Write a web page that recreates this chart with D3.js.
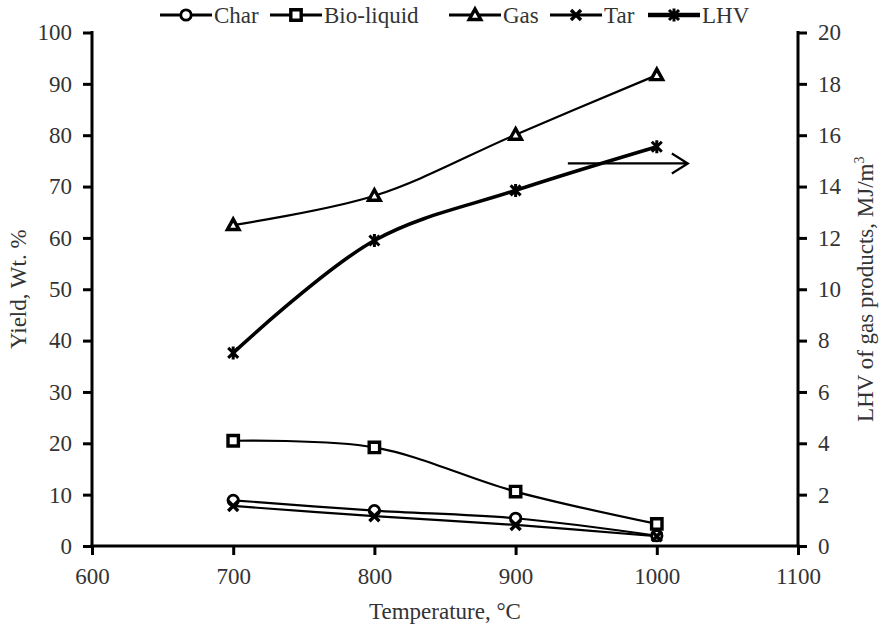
<!DOCTYPE html>
<html>
<head>
<meta charset="utf-8">
<script src="https://cdn.jsdelivr.net/npm/d3@7"></script>
<style>
  html, body { margin: 0; padding: 0; background: #fff; }
  svg text { font-family: "Liberation Serif", "Times New Roman", serif; fill: #333; }
</style>
</head>
<body>
<svg id="chart" width="883" height="630"></svg>
<script>
// Temperatures (°C) on the x axis
const temperatures = [700, 800, 900, 1000];

// Product yields, wt. % (left axis)
const charYield = [8.9, 6.9, 5.4, 2.0];
const bioLiquidYield = [20.5, 19.2, 10.6, 4.3];
const gasYield = [62.5, 68.2, 80.1, 91.7];
const tarYield = [7.8, 5.8, 4.1, 1.9];

// Lower heating value of gas products, MJ/m3 (right axis)
const lhvValues = [7.52, 11.9, 13.85, 15.55];

// Axis ticks
const xTicks = [600, 700, 800, 900, 1000, 1100];
const yLeftTicks = [0, 10, 20, 30, 40, 50, 60, 70, 80, 90, 100];
const yRightTicks = [0, 2, 4, 6, 8, 10, 12, 14, 16, 18, 20];

// Series names in legend order
const seriesNames = ["Char", "Bio-liquid", "Gas", "Tar", "LHV"];

// Arrow pointing at the right-hand axis (temperature span, LHV level)
const arrowFrom = [937, 14.9];
const arrowTo = [1022, 14.9];

const svg = d3.select("#chart");
const plot = { left: 92, right: 798, top: 32.5, bottom: 546 };
const FONT = 23;
const SERIF = '"Liberation Serif", "Times New Roman", serif';

const x = d3.scaleLinear().domain([600, 1100]).range([plot.left, plot.right]);
const yL = d3.scaleLinear().domain([0, 100]).range([plot.bottom, plot.top]);
const yR = d3.scaleLinear().domain([0, 20]).range([plot.bottom, plot.top]);

// ---- marker shapes ----
function markerPath(kind) {
  switch (kind) {
    case "circle": return d3.symbol(d3.symbolCircle, 85)();
    case "square": return "M-5.2,-5.2H5.2V5.2H-5.2Z";
    case "triangle": return "M0,-6L5.8,4.5H-5.8Z";
    case "x": return "M-5,-5L5,5M-5,5L5,-5";
    case "star": return "M-5,-5L5,5M-5,5L5,-5M0,-6.5V6.5";
  }
}

const series = [
  { name: seriesNames[0], values: charYield, y: yL, marker: "circle", width: 2.2, mstroke: 2.8 },
  { name: seriesNames[1], values: bioLiquidYield, y: yL, marker: "square", width: 2.2, mstroke: 3.4 },
  { name: seriesNames[2], values: gasYield, y: yL, marker: "triangle", width: 2.2, mstroke: 3.4 },
  { name: seriesNames[3], values: tarYield, y: yL, marker: "x", width: 2.2, mstroke: 3.4 },
  { name: seriesNames[4], values: lhvValues, y: yR, marker: "star", width: 3.6, mstroke: 3 }
];

// ---- axes ----
const axisG = svg.append("g");

const gx = axisG.append("g").attr("transform", `translate(0,${plot.bottom})`)
  .call(d3.axisBottom(x).tickValues(xTicks).tickSize(9).tickPadding(13).tickFormat(d3.format("d")));
const gl = axisG.append("g").attr("transform", `translate(${plot.left},0)`)
  .call(d3.axisLeft(yL).tickValues(yLeftTicks).tickSize(9).tickPadding(11).tickFormat(d3.format("d")));
const gr = axisG.append("g").attr("transform", `translate(${plot.right},0)`)
  .call(d3.axisRight(yR).tickValues(yRightTicks).tickSize(9).tickPadding(11).tickFormat(d3.format("d")));

[gx, gl, gr].forEach(g => {
  g.attr("font-family", SERIF).attr("font-size", FONT);
  g.select(".domain").attr("stroke", "#000").attr("stroke-width", 3);
  g.selectAll(".tick line").attr("stroke", "#000").attr("stroke-width", 3);
  g.selectAll(".tick text").style("font-size", FONT + "px").style("font-family", SERIF).attr("fill", "#333");
});
// plain axis lines without the end caps d3 draws
gx.select(".domain").attr("d", `M${plot.left - 1.5},0H${plot.right + 1.5}`);
gl.select(".domain").attr("d", `M0,${plot.top - 1.5}V${plot.bottom}`);
gr.select(".domain").attr("d", `M0,${plot.top - 1.5}V${plot.bottom}`);

// axis titles
svg.append("text").attr("x", (plot.left + plot.right) / 2).attr("y", 619)
  .attr("text-anchor", "middle").attr("font-size", FONT).text("Temperature, °C");
svg.append("text").attr("transform", `translate(26,${(plot.top + plot.bottom) / 2}) rotate(-90)`)
  .attr("text-anchor", "middle").attr("font-size", FONT).text("Yield, Wt. %");
const rt = svg.append("text").attr("transform", `translate(873,${(plot.top + plot.bottom) / 2}) rotate(-90)`)
  .attr("text-anchor", "middle").attr("font-size", FONT);
rt.append("tspan").text("LHV of gas products, MJ/m");
rt.append("tspan").attr("font-size", 14).attr("dy", -9).text("3");

// ---- series lines and markers ----
const dataG = svg.append("g");
series.forEach(s => {
  const pts = temperatures.map((t, i) => [x(t), s.y(s.values[i])]);
  dataG.append("path")
    .attr("d", d3.line().curve(d3.curveCatmullRom.alpha(0.5))(pts))
    .attr("fill", "none").attr("stroke", "#000").attr("stroke-width", s.width);
  s.pts = pts;
});
series.forEach(s => {
  dataG.selectAll(null).data(s.pts).join("path")
    .attr("transform", d => `translate(${d[0]},${d[1]})`)
    .attr("d", markerPath(s.marker))
    .attr("fill", (s.marker === "x" || s.marker === "star") ? "none" : "#fff")
    .attr("stroke", "#000").attr("stroke-width", s.mstroke);
});

// ---- arrow toward the right axis ----
const ax0 = x(arrowFrom[0]), ay = yR(arrowFrom[1]), ax1 = x(arrowTo[0]);
svg.append("path")
  .attr("d", `M${ax0},${ay}H${ax1}M${ax1 - 16},${ay - 10}L${ax1},${ay}L${ax1 - 16},${ay + 10}`)
  .attr("fill", "none").attr("stroke", "#000").attr("stroke-width", 2.2);

// ---- legend ----
const legendX = [160, 270, 449, 550, 648];
const legendY = 15;
const leg = svg.append("g");
series.forEach((s, i) => {
  const g = leg.append("g").attr("transform", `translate(${legendX[i]},${legendY})`);
  g.append("line").attr("x1", 0).attr("x2", 52).attr("y1", 0).attr("y2", 0)
    .attr("stroke", "#000").attr("stroke-width", s.width + 0.8);
  g.append("path").attr("transform", "translate(26,0)").attr("d", markerPath(s.marker))
    .attr("fill", (s.marker === "x" || s.marker === "star") ? "none" : "#fff")
    .attr("stroke", "#000").attr("stroke-width", s.mstroke);
  g.append("text").attr("x", 54).attr("y", 8).attr("font-size", FONT).text(s.name);
});
</script>
</body>
</html>
